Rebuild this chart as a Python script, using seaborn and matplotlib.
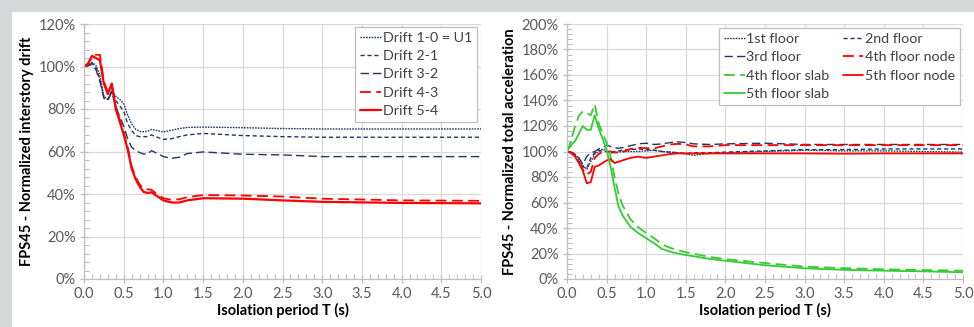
import numpy as np
import pandas as pd
import seaborn as sns
import matplotlib
matplotlib.use("Agg")
import matplotlib.pyplot as plt
from matplotlib.ticker import MultipleLocator, FuncFormatter
from matplotlib.patches import Rectangle

# ---------------- data: left chart (interstory drift) ----------------
T_left = [0, 0.05, 0.1, 0.15, 0.2, 0.25, 0.3, 0.35, 0.4, 0.45, 0.5, 0.55, 0.6, 0.65,
          0.7, 0.75, 0.8, 0.85, 0.9, 1.0, 1.1, 1.2, 1.3, 1.5, 2.0, 2.5, 3.0, 4.0, 5.0]
drift_1_0 = [100, 100.5, 102, 100.5, 96, 86, 84.5, 88.5, 86, 84.5, 82.5, 77, 73, 70.5,
             69.5, 69.3, 69.5, 70.4, 70, 69.2, 70, 70.8, 71.3, 71.5, 71.2, 70.8, 70.6, 70.6, 70.6]
drift_2_1 = [100, 100.5, 101.5, 99.5, 94, 85.5, 84.5, 88.5, 84, 81.5, 79, 73, 70, 67.5,
             67, 67, 67, 67.8, 67, 65.7, 66, 67, 67.8, 68.5, 67.5, 67, 66.7, 66.7, 66.7]
drift_3_2 = [100, 100.3, 101, 98.5, 93, 85, 84, 88, 81, 76.5, 72, 66, 62, 60.5,
             59.5, 58.8, 58.8, 60.4, 59.5, 57.6, 56.8, 57.3, 59, 59.8, 58.7, 58.4, 57.6, 57.6, 57.6]
drift_4_3 = [100, 101.5, 104.5, 105.5, 105.5, 93, 88, 91, 81, 75, 69, 62, 53, 48,
             44.5, 42.5, 42.2, 42, 40.5, 38, 37.3, 37.5, 38.5, 39.5, 39.3, 38.8, 37.8, 37, 36.8]
drift_5_4 = [100, 101, 105, 104, 103, 92, 87, 92, 80, 74, 68, 61, 52, 47,
             43.5, 41, 40.5, 40.8, 39.5, 37, 36, 36, 37, 38, 37.8, 37, 36.3, 35.8, 35.6]
left_labels = ["Drift 1-0 = U1", "Drift 2-1", "Drift 3-2", "Drift 4-3", "Drift 5-4"]

# ---------------- data: right chart (total acceleration) ----------------
T_right = [0, 0.05, 0.1, 0.15, 0.2, 0.25, 0.3, 0.35, 0.4, 0.45, 0.5, 0.55, 0.6, 0.65,
           0.7, 0.8, 0.9, 1.0, 1.1, 1.2, 1.3, 1.4, 1.5, 1.6, 1.8, 2.0, 2.5, 3.0, 3.5,
           4.0, 4.5, 5.0]
acc_1st = [100, 99.5, 98, 94, 89, 86, 92, 98, 100, 102, 100, 99, 99, 99.5,
           100, 100, 100, 100.5, 101, 100, 99.5, 99, 98, 97, 98.5, 99, 100, 101, 100.5,
           100.5, 100, 99.5]
acc_2nd = [100, 99.5, 97, 92, 88, 87, 95, 99, 101, 100, 100, 99, 100, 100.5,
           101, 101.5, 102, 101.5, 101, 100, 99.5, 99, 98.5, 99, 99, 99.5, 100.5, 101.5, 101.5,
           102, 102, 102]
acc_3rd = [100, 99.5, 98, 95, 90, 96, 99, 100, 102, 103, 105, 104, 103, 102.5,
           103, 104.5, 106, 106.5, 105.5, 106, 107, 107.5, 107, 106, 105.5, 106, 106.5, 105.5, 105.5,
           105.5, 105.5, 105.5]
acc_4th_node = [100, 99, 97, 92, 86, 82, 84, 95, 98, 100, 100, 100, 99.5, 99,
                99.5, 102, 103, 102.5, 102.5, 104, 105.5, 106, 105.5, 104, 104, 105, 105, 105, 105,
                105, 105, 105]
acc_5th_node = [100, 99, 96, 91, 85, 75, 76, 88, 89, 91, 93, 94, 91, 92,
                93, 95, 96, 95, 96, 97, 98, 98.5, 98.5, 98.5, 98.5, 98.5, 98.5, 98.5, 98.3,
                98.5, 98.5, 98.5]
acc_4th_slab = [100, 108, 119.5, 128, 131.5, 130, 128.5, 137, 122, 114, 107, 96, 80, 67,
                58, 47, 40.5, 36, 32, 27, 24.5, 22.5, 21, 19.8, 17.3, 15.6, 12.5, 9.7, 8.5,
                7.6, 7, 6.5]
acc_5th_slab = [100, 105, 108, 114, 120, 117, 117, 128.5, 118, 110, 101, 88, 72, 57,
                50, 41, 36, 32, 28, 23.5, 21.5, 20, 18.8, 17.8, 15.8, 14.3, 10.8, 8.4, 7.2,
                6.5, 6, 5.3]
right_labels = ["1st floor", "2nd floor", "3rd floor", "4th floor node",
                "4th floor slab", "5th floor node", "5th floor slab"]

# ---------------- style ----------------
NAVY = "#1f3864"
RED = "#ff0000"
GREEN = "#33cc33"
DOT = (0, (1.2, 0.8))
DASH = (0, (3, 2))
LDASH = (0, (6, 3))
SOLID = "-"

sns.set_theme(style="white")
plt.rcParams["font.family"] = ["Lato", "DejaVu Sans"]

fig = plt.figure(figsize=(9.74, 3.27), dpi=100)
fig.patch.set_facecolor("#d5d7d9")
bg = Rectangle((12 / 974, 0), 1, 1 - 12 / 327, transform=fig.transFigure,
               facecolor="white", edgecolor="none", zorder=-10)
fig.add_artist(bg)

axL = fig.add_axes([84 / 974, 1 - 279 / 327, 397 / 974, 255 / 327])
axR = fig.add_axes([567 / 974, 1 - 279 / 327, 396 / 974, 255 / 327])

left_series = [
    (drift_1_0, NAVY, DOT, 1.0),
    (drift_2_1, NAVY, DASH, 1.0),
    (drift_3_2, NAVY, LDASH, 1.0),
    (drift_4_3, RED, LDASH, 1.3),
    (drift_5_4, RED, SOLID, 1.6),
]
for (vals, col, ls, lw), lab in zip(left_series, left_labels):
    df = pd.DataFrame({"T": T_left, "v": vals})
    sns.lineplot(data=df, x="T", y="v", ax=axL, color=col, linestyle=ls, linewidth=lw,
                 label=lab)

right_series = {
    "1st floor": (acc_1st, NAVY, DOT, 1.0),
    "2nd floor": (acc_2nd, NAVY, DASH, 1.0),
    "3rd floor": (acc_3rd, NAVY, LDASH, 1.0),
    "4th floor node": (acc_4th_node, RED, LDASH, 1.3),
    "4th floor slab": (acc_4th_slab, GREEN, LDASH, 1.3),
    "5th floor node": (acc_5th_node, RED, SOLID, 1.3),
    "5th floor slab": (acc_5th_slab, GREEN, SOLID, 1.3),
}
for lab in right_labels:
    vals, col, ls, lw = right_series[lab]
    df = pd.DataFrame({"T": T_right, "v": vals})
    sns.lineplot(data=df, x="T", y="v", ax=axR, color=col, linestyle=ls, linewidth=lw,
                 label=lab)


def style_axes(ax, ymax, ylabel):
    ax.set_xlim(0, 5)
    ax.set_ylim(0, ymax)
    ax.xaxis.set_major_locator(MultipleLocator(0.5))
    ax.xaxis.set_minor_locator(MultipleLocator(0.1))
    ax.yaxis.set_major_locator(MultipleLocator(20))
    ax.yaxis.set_minor_locator(MultipleLocator(4))
    ax.xaxis.set_major_formatter(FuncFormatter(lambda v, p: f"{v:.1f}"))
    ax.yaxis.set_major_formatter(FuncFormatter(lambda v, p: f"{v:.0f}%"))
    ax.grid(True, which="major", color="#d9d9d9", linewidth=0.9)
    ax.set_axisbelow(True)
    for s in ["top", "right"]:
        ax.spines[s].set_visible(False)
    for s in ["left", "bottom"]:
        ax.spines[s].set_color("#bfbfbf")
        ax.spines[s].set_linewidth(0.9)
    ax.tick_params(which="major", direction="inout", length=6, width=0.9, color="#bfbfbf",
                   labelsize=10.5, labelcolor="#595959", pad=3,
                   bottom=True, left=True)
    ax.tick_params(which="minor", direction="in", length=3.5, width=0.8, color="#bfbfbf",
                   bottom=True, left=True)
    ax.set_xlabel("Isolation period T (s)", fontsize=10.5, fontweight="bold", color="black",
                  labelpad=1)
    ax.set_ylabel(ylabel, fontsize=10.5, fontweight="bold", color="black", labelpad=3)
    ax.set_facecolor("white")


style_axes(axL, 120, "FPS45 - Normalized interstory drift")
style_axes(axR, 200, "FPS45 - Normalized total acceleration")

# legends
hL, lL = axL.get_legend_handles_labels()
legL = axL.legend(hL, lL, loc="upper right", bbox_to_anchor=(0.99, 0.99), fontsize=10.3,
                  frameon=True, fancybox=False, edgecolor="#bfbfbf", framealpha=1,
                  handlelength=1.45, handletextpad=0.1, labelspacing=0.45, borderpad=0.35,
                  borderaxespad=0)
legL.get_frame().set_linewidth(0.9)
for t in legL.get_texts():
    t.set_color("#404040")

hR, lR = axR.get_legend_handles_labels()
d = dict(zip(lR, hR))
order = ["1st floor", "3rd floor", "4th floor slab", "5th floor slab",
         "2nd floor", "4th floor node", "5th floor node"]
legR = axR.legend([d[k] for k in order], order, loc="upper right",
                  bbox_to_anchor=(0.992, 0.985), ncol=2, fontsize=10.3,
                  frameon=True, fancybox=False, edgecolor="#bfbfbf", framealpha=1,
                  handlelength=1.45, handletextpad=0.1, labelspacing=0.45, borderpad=0.35,
                  columnspacing=0.9, borderaxespad=0)
legR.get_frame().set_linewidth(0.9)
for t in legR.get_texts():
    t.set_color("#404040")

fig.savefig("out.png", dpi=100, facecolor=fig.get_facecolor())
